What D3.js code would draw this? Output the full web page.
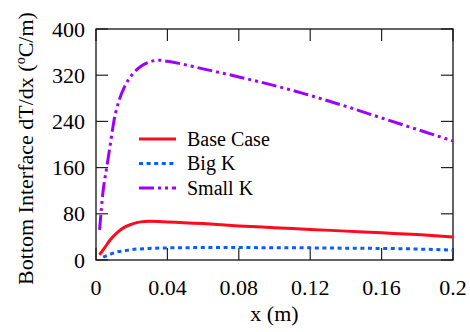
<!DOCTYPE html>
<html>
<head>
<meta charset="utf-8">
<script src="https://cdn.jsdelivr.net/npm/d3@7"></script>
<style>
  body { margin: 0; background: #fff; }
</style>
</head>
<body>
<div id="chart"></div>
<script>
// chart values
var xTicks = [0, 0.04, 0.08, 0.12, 0.16, 0.2];
var yTicks = [0, 80, 160, 240, 320, 400];

var baseX = [0.002, 0.005, 0.008, 0.012, 0.016, 0.020, 0.025, 0.030, 0.040, 0.060, 0.080, 0.100, 0.120, 0.140, 0.160, 0.180, 0.200];
var baseY = [9, 22, 35, 48, 57, 62, 66, 67, 66, 63, 59, 56, 53, 50, 47, 44, 40];

var bigX = [0.004, 0.008, 0.012, 0.016, 0.020, 0.030, 0.040, 0.060, 0.080, 0.100, 0.120, 0.140, 0.160, 0.180, 0.200];
var bigY = [5, 10, 14, 16, 18, 20, 21, 21.5, 21.5, 21.3, 21, 20.5, 20, 19, 17];

var smallX = [0.002, 0.004, 0.006, 0.008, 0.010, 0.013, 0.016, 0.020, 0.025, 0.030, 0.035, 0.040, 0.060, 0.080, 0.100, 0.120, 0.140, 0.160, 0.180, 0.200];
var smallY = [52, 120, 160, 200, 240, 277, 300, 320, 335, 343, 346, 344, 331, 317, 302, 285, 266, 246, 226, 206];

var seriesNames = ["Base Case", "Big K", "Small K"];

// canvas size
var svgWidth = 470;
var svgHeight = 332;

var margin = { top: 29, right: 17, bottom: 72, left: 96 };
var width = svgWidth - margin.left - margin.right;
var height = svgHeight - margin.top - margin.bottom;

var svg = d3.select("#chart")
  .append("svg")
  .attr("width", svgWidth)
  .attr("height", svgHeight);

var chartGroup = svg.append("g")
  .attr("transform", `translate(${margin.left}, ${margin.top})`);

var xScale = d3.scaleLinear().domain([0, 0.2]).range([0, width]);
var yScale = d3.scaleLinear().domain([0, 400]).range([height, 0]);

function fmt(d) {
  return d === 0 ? "0" : String(+d.toFixed(2));
}

// draws a text with the serif face, same way for every label
function addText(parent, x, y, size, str) {
  return parent.append("text")
    .attr("x", x)
    .attr("y", y)
    .style("font-family", "Liberation Serif")
    .style("font-size", size + "px")
    .text(str);
}

// ticks pointing inward on all four sides, labels drawn by hand from the scales
var tickLen = 12;
var ticks = chartGroup.append("g").attr("stroke", "#222").attr("stroke-width", 1.2);

xTicks.forEach(function(t) {
  var px = xScale(t);
  ticks.append("line").attr("x1", px).attr("x2", px).attr("y1", height).attr("y2", height - tickLen);
  ticks.append("line").attr("x1", px).attr("x2", px).attr("y1", 0).attr("y2", tickLen);
  addText(chartGroup, px, height + 35, 22, fmt(t)).attr("text-anchor", "middle");
});

yTicks.forEach(function(t) {
  var py = yScale(t);
  ticks.append("line").attr("x1", 0).attr("x2", tickLen).attr("y1", py).attr("y2", py);
  ticks.append("line").attr("x1", width).attr("x2", width - tickLen).attr("y1", py).attr("y2", py);
  addText(chartGroup, -11, py + 7.5, 22, fmt(t)).attr("text-anchor", "end");
});

// frame
chartGroup.append("rect")
  .attr("x", 0).attr("y", 0)
  .attr("width", width).attr("height", height)
  .attr("fill", "none")
  .attr("stroke", "#111")
  .attr("stroke-width", 1.3);

var line = d3.line()
  .x(d => xScale(d[0]))
  .y(d => yScale(d[1]))
  .curve(d3.curveMonotoneX);

var styles = [
  { color: "#ff0a1e", dash: null },
  { color: "#0a5cff", dash: "4,3.6" },
  { color: "#9d00ff", dash: "15,4,3,4,3,4" }
];

var seriesData = [
  d3.zip(baseX, baseY),
  d3.zip(bigX, bigY),
  d3.zip(smallX, smallY)
];

seriesData.forEach(function(data, i) {
  chartGroup.append("path")
    .datum(data)
    .attr("d", line)
    .attr("fill", "none")
    .attr("stroke", styles[i].color)
    .attr("stroke-width", 3)
    .attr("stroke-dasharray", styles[i].dash);
});

// legend
var legend = chartGroup.append("g")
  .attr("transform", `translate(${139 - margin.left}, ${139 - margin.top})`);

seriesNames.forEach(function(name, i) {
  var row = legend.append("g").attr("transform", `translate(0, ${i * 24.5})`);
  row.append("line")
    .attr("x1", 0).attr("x2", 37)
    .attr("y1", 0).attr("y2", 0)
    .attr("stroke", styles[i].color)
    .attr("stroke-width", 3)
    .attr("stroke-dasharray", styles[i].dash);
  addText(row, 48, 6.8, 20, name);
});

// axis labels
addText(svg, margin.left + width / 2, 321, 22, "x (m)").attr("text-anchor", "middle");

var yLabel = svg.append("text")
  .attr("transform", "rotate(-90)")
  .attr("x", -(margin.top + height / 2) - 4)
  .attr("y", 33)
  .attr("text-anchor", "middle")
  .style("font-family", "Liberation Serif")
  .style("font-size", "22px");
yLabel.append("tspan").text("Bottom Interface dT/dx (");
yLabel.append("tspan").attr("dy", -8).style("font-size", "14px").text("o");
yLabel.append("tspan").attr("dy", 8).text("C/m)");
</script>
</body>
</html>
